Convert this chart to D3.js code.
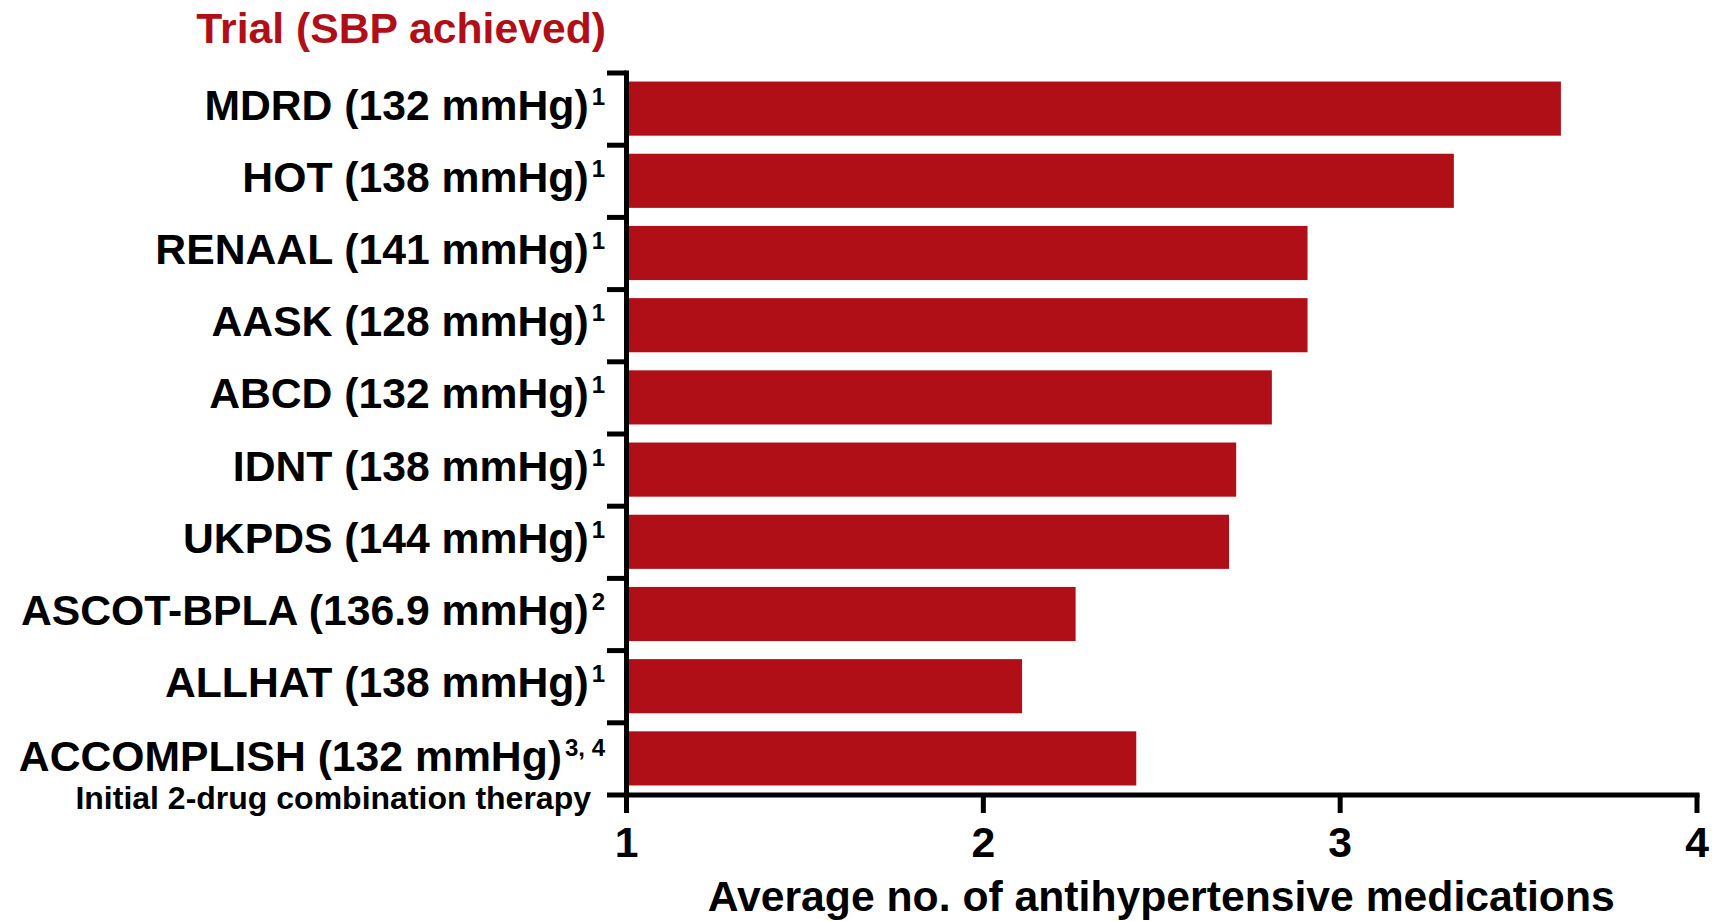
<!DOCTYPE html>
<html>
<head>
<meta charset="utf-8">
<script src="https://cdn.jsdelivr.net/npm/d3@7"></script>
<style>
  html, body { margin: 0; padding: 0; background: #fff; }
  svg { display: block; }
  text { font-family: "Liberation Sans", Arial, Helvetica, sans-serif; font-weight: bold; }
</style>
</head>
<body>
<svg id="chart" width="1717" height="921"></svg>
<script>
// Trials, blood pressure achieved, reference marks and mean number of drugs
const trials = ["MDRD", "HOT", "RENAAL", "AASK", "ABCD", "IDNT", "UKPDS", "ASCOT-BPLA", "ALLHAT", "ACCOMPLISH"];
const sbpAchieved = ["132", "138", "141", "128", "132", "138", "144", "136.9", "138", "132"];
const refs = ["1", "1", "1", "1", "1", "1", "1", "2", "1", "3, 4"];
const notes = ["", "", "", "", "", "", "", "", "", "Initial 2-drug combination therapy"];
const avgMeds = [3.62, 3.32, 2.91, 2.91, 2.81, 2.71, 2.69, 2.26, 2.11, 2.43];
const xTicks = [1, 2, 3, 4];

const RED = "#B10F17";
const FONT = "42.7px";
const svg = d3.select("#chart");

const plot = { left: 626, right: 1696.5, top: 72.5, bottom: 794.5 };

const x = d3.scaleLinear().domain([1, 4]).range([plot.left, plot.right]);
const y = d3.scaleBand().domain(trials).range([plot.top, plot.bottom])
  .paddingInner(0.25).paddingOuter(0.125);
// band edges, used for the category separators on the vertical axis
const yEdges = d3.scaleLinear().domain([0, trials.length]).range([plot.top, plot.bottom]);

const rows = trials.map((t, i) => ({ trial: t, sbp: sbpAchieved[i], ref: refs[i], note: notes[i], value: avgMeds[i] }));

// bars
svg.append("g").selectAll("rect").data(rows).join("rect")
  .attr("x", x(1))
  .attr("y", d => y(d.trial))
  .attr("width", d => x(d.value) - x(1))
  .attr("height", y.bandwidth())
  .attr("fill", RED);

// vertical axis with separators between trials
const yAxis = svg.append("g")
  .attr("transform", `translate(${plot.left},0)`)
  .call(d3.axisLeft(yEdges).tickValues(d3.range(trials.length + 1)).tickSize(19).tickSizeOuter(0).tickFormat(""));

// horizontal axis
const xAxis = svg.append("g")
  .attr("transform", `translate(0,${plot.bottom})`)
  .call(d3.axisBottom(x).tickValues(xTicks).tickSize(18.5).tickSizeOuter(0).tickFormat(d3.format("d")));

[yAxis, xAxis].forEach(g => {
  g.select(".domain").attr("stroke", "#000").attr("stroke-width", 5).attr("stroke-linecap", "square");
  g.selectAll(".tick line").attr("stroke", "#000").attr("stroke-width", 5);
});
xAxis.selectAll(".tick text")
  .attr("y", 62.5).attr("dy", 0)
  .attr("fill", "#000")
  .style("font-size", FONT);

// trial labels with superscript reference marks
const labels = svg.append("g").selectAll("g").data(rows).join("g");
labels.append("text")
  .attr("x", 605)
  .attr("y", d => y(d.trial) + y.bandwidth() / 2 + (d.note ? 12.5 : 11))
  .attr("text-anchor", "end")
  .style("font-size", FONT)
  .attr("fill", "#000")
  .each(function (d) {
    const t = d3.select(this);
    t.append("tspan").text(`${d.trial} (${d.sbp} mmHg)`);
    t.append("tspan").attr("dx", 3).attr("dy", -15).style("font-size", "24px").text(d.ref);
  });
labels.filter(d => d.note).append("text")
  .attr("x", 591)
  .attr("y", d => y(d.trial) + y.bandwidth() / 2 + 50.5)
  .attr("text-anchor", "end")
  .style("font-size", "32px")
  .attr("fill", "#000")
  .text(d => d.note);

// header over the labels
svg.append("text")
  .attr("x", 606).attr("y", 43)
  .attr("text-anchor", "end")
  .style("font-size", FONT)
  .attr("fill", RED)
  .text("Trial (SBP achieved)");

// axis title
svg.append("text")
  .attr("x", (plot.left + plot.right) / 2).attr("y", 911)
  .attr("text-anchor", "middle")
  .style("font-size", FONT)
  .attr("fill", "#000")
  .text("Average no. of antihypertensive medications");
</script>
</body>
</html>
